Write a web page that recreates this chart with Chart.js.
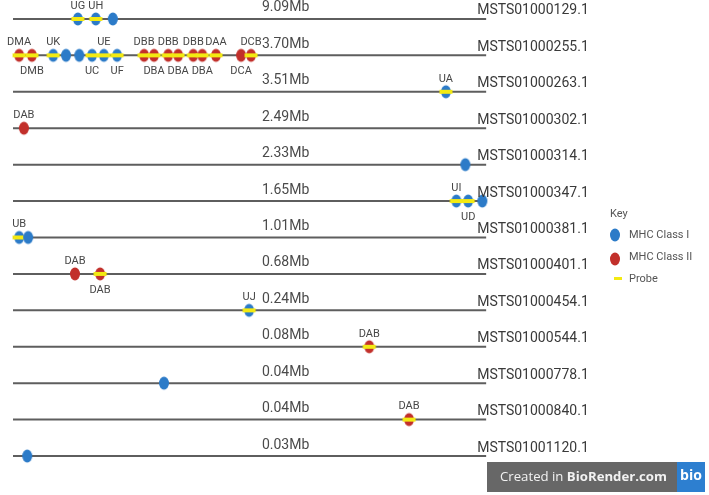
<!DOCTYPE html>
<html>
<head>
<meta charset="utf-8">
<script src="https://cdn.jsdelivr.net/npm/chart.js@4"></script>
<style>
  html, body { margin: 0; padding: 0; background: #fff; }
  #wrap { position: relative; width: 709px; height: 495px; }
</style>
</head>
<body>
<div id="wrap"><canvas id="mhcMap"></canvas></div>
<script>
// --- Data ---
const contigs = ['MSTS01000129.1', 'MSTS01000255.1', 'MSTS01000263.1', 'MSTS01000302.1', 'MSTS01000314.1',
    'MSTS01000347.1', 'MSTS01000381.1', 'MSTS01000401.1', 'MSTS01000454.1', 'MSTS01000544.1',
    'MSTS01000778.1', 'MSTS01000840.1', 'MSTS01001120.1'];
const contigSizesMb = [9.09, 3.70, 3.51, 2.49, 2.33, 1.65, 1.01, 0.68, 0.24, 0.08, 0.04, 0.04, 0.03];

// genes: contig row, position along the contig (% of drawn length), class, probe, label, label side
const geneRow = [0, 0, 0,
    1, 1, 1, 1, 1, 1, 1, 1, 1, 1, 1, 1, 1, 1, 1, 1, 1,
    2, 3, 4, 5, 5, 5, 6, 6, 7, 7, 8, 9, 10, 11, 12];
const genePos = [13.7, 17.5, 21.1,
    1.3, 4.0, 8.5, 11.2, 14.0, 16.7, 19.2, 22.0, 27.7, 29.8, 32.8, 34.9, 38.1, 40.0, 42.9, 48.2, 50.3,
    91.5, 2.3, 95.6, 93.7, 96.2, 99.2, 1.3, 3.2, 13.1, 18.4, 49.9, 75.3, 31.9, 83.7, 3.0];
const geneClass = ['I', 'I', 'I',
    'II', 'II', 'I', 'I', 'I', 'I', 'I', 'I', 'II', 'II', 'II', 'II', 'II', 'II', 'II', 'II', 'II',
    'I', 'II', 'I', 'I', 'I', 'I', 'I', 'I', 'II', 'II', 'I', 'II', 'I', 'II', 'I'];
const geneProbe = [true, true, false,
    true, true, true, false, false, true, true, true, true, true, true, true, true, true, true, false, true,
    true, false, false, true, true, false, true, false, false, true, true, true, false, true, false];
const geneName = ['UG', 'UH', '',
    'DMA', 'DMB', 'UK', '', '', 'UC', 'UE', 'UF', 'DBB', 'DBA', 'DBB', 'DBA', 'DBB', 'DBA', 'DAA', 'DCA', 'DCB',
    'UA', 'DAB', '', 'UI', 'UD', '', 'UB', '', 'DAB', 'DAB', 'UJ', 'DAB', '', 'DAB', ''];
const geneSide = ['up', 'up', '',
    'up', 'down', 'up', '', '', 'down', 'up', 'down', 'up', 'down', 'up', 'down', 'up', 'down', 'up', 'down', 'up',
    'up', 'up', '', 'up', 'down', '', 'up', '', 'up', 'down', 'up', 'up', '', 'up', ''];

const keyLabels = ['MHC Class I', 'MHC Class II', 'Probe'];

// --- Styles ---
const BLUE = '#2c7bc8';
const RED = '#c2302b';
const YELLOW = '#f3ea12';
const LINE = '#5e5e5e';

function makeMarker(fill, probe) {
    const c = document.createElement('canvas');
    c.width = 16; c.height = 16;
    const g = c.getContext('2d');
    g.fillStyle = fill;
    g.beginPath();
    g.ellipse(8, 8, 5, 6.5, 0, 0, Math.PI * 2);
    g.fill();
    if (probe) {
        g.fillStyle = YELLOW;
        g.fillRect(1.5, 6, 13, 4);
    }
    return c;
}
const markers = {
    'I': makeMarker(BLUE, false), 'Ip': makeMarker(BLUE, true),
    'II': makeMarker(RED, false), 'IIp': makeMarker(RED, true)
};

// --- Datasets ---
const lineSets = contigs.map((name, i) => ({
    label: name,
    data: [{ x: 0, y: i }, { x: 100, y: i }],
    showLine: true,
    borderColor: LINE,
    borderWidth: 2,
    pointRadius: 0,
    order: 2
}));

const geneSet = {
    label: 'genes',
    data: geneRow.map((r, i) => ({ x: genePos[i], y: r })),
    pointStyle: geneClass.map((c, i) => markers[c + (geneProbe[i] ? 'p' : '')]),
    order: 0
};

// --- Text / key plugin ---
const textPlugin = {
    id: 'mapText',
    afterDatasetsDraw(chart) {
        const { ctx, scales: { x, y } } = chart;
        ctx.save();
        ctx.textBaseline = 'middle';

        // gene labels
        ctx.font = '11px Roboto';
        ctx.fillStyle = '#474747';
        ctx.textAlign = 'center';
        geneName.forEach((n, i) => {
            if (!n) return;
            const px = x.getPixelForValue(genePos[i]);
            const py = y.getPixelForValue(geneRow[i]) + (geneSide[i] === 'up' ? -13 : 16);
            ctx.fillText(n, px, py);
        });

        // sizes and contig names
        ctx.textAlign = 'left';
        contigs.forEach((name, i) => {
            const py = y.getPixelForValue(i);
            ctx.font = '14px Roboto';
            ctx.fillStyle = '#4a4a4a';
            ctx.fillText(contigSizesMb[i].toFixed(2) + 'Mb', x.getPixelForValue(52.6), py - 11);
            ctx.fillStyle = '#3a3a3a';
            ctx.fillText(name, x.getPixelForValue(98.1), py - 8);
        });

        // key
        ctx.font = '11px Roboto';
        ctx.fillStyle = '#555';
        ctx.fillText('Key', 610, 214);
        ctx.drawImage(markers['I'], 607, 227);
        ctx.drawImage(markers['II'], 607, 251);
        ctx.fillStyle = YELLOW;
        ctx.fillRect(614, 277, 8, 3);
        ctx.fillStyle = '#555';
        keyLabels.forEach((t, i) => ctx.fillText(t, 629, 235 + i * 22));

        // BioRender badge
        ctx.fillStyle = '#676767';
        ctx.fillRect(487, 462, 190, 30);
        ctx.fillStyle = '#2d7fd0';
        ctx.fillRect(677, 462, 28, 30);
        ctx.fillStyle = '#f2f2f2';
        ctx.font = '14px "Open Sans"';
        const w1 = ctx.measureText('Created in ').width;
        ctx.font = 'bold 14px "Open Sans"';
        const w2 = ctx.measureText('BioRender.com').width;
        const fs = 14 * 167 / (w1 + w2);
        ctx.font = fs.toFixed(2) + 'px "Open Sans"';
        ctx.fillText('Created in ', 500, 477);
        const w = ctx.measureText('Created in ').width;
        ctx.font = 'bold ' + fs.toFixed(2) + 'px "Open Sans"';
        ctx.fillText('BioRender.com', 500 + w, 477);
        ctx.fillStyle = '#fff';
        ctx.textAlign = 'center';
        ctx.font = 'bold 14px "Open Sans"';
        ctx.fillText('bio', 691, 476);
        ctx.restore();
    }
};

new Chart(document.getElementById('mhcMap'), {
    type: 'scatter',
    data: { datasets: [geneSet, ...lineSets] },
    options: {
        responsive: true,
        maintainAspectRatio: false,
        animation: false,
        events: [],
        layout: { padding: 0, autoPadding: false },
        plugins: { legend: { display: false }, tooltip: { enabled: false } },
        scales: {
            x: { type: 'linear', display: false, min: -2.75, max: 147.1 },
            y: { type: 'linear', display: false, reverse: true, min: -0.52, max: 13.07 }
        }
    },
    plugins: [textPlugin]
});
</script>
</body>
</html>
